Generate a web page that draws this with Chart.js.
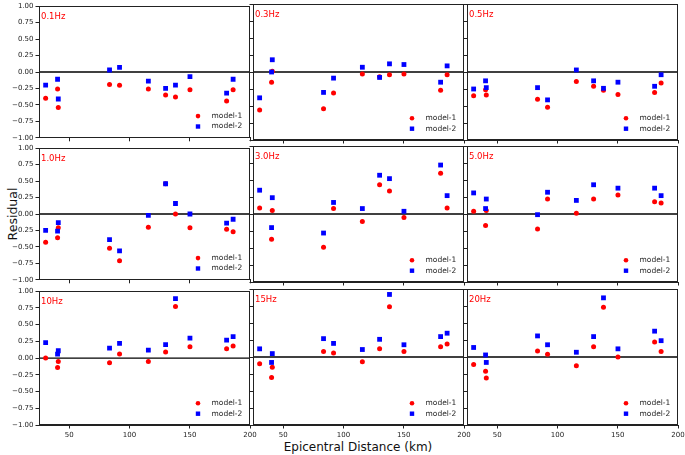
<!DOCTYPE html>
<html>
<head>
<meta charset="utf-8">
<script src="https://cdn.jsdelivr.net/npm/chart.js@4.4.1/dist/chart.umd.min.js"></script>
<style>
    body { margin: 0; background: #fff; width: 685px; height: 455px; position: relative; overflow: hidden; font-family: "DejaVu Sans", sans-serif; }
    canvas { position: absolute; }
    #ylabel { position: absolute; left: 12px; top: 214px; transform: translate(-50%, -50%) rotate(-90deg); font-size: 12.5px; color: #111; white-space: nowrap; }
    #xlabel { position: absolute; left: 358px; top: 447px; transform: translate(-50%, -50%); font-size: 12px; color: #111; white-space: nowrap; }
</style>
</head>
<body>
<div id="ylabel">Residual</div>
<div id="xlabel">Epicentral Distance (km)</div>
<script>
// station distances (km), shared by every panel
const distances = [30.5, 40.4, 41.0, 83.5, 91.8, 115.7, 130.0, 138.2, 150.2, 180.6, 186.0];

const freqLabels = ["0.1Hz", "0.3Hz", "0.5Hz", "1.0Hz", "3.0Hz", "5.0Hz", "10Hz", "15Hz", "20Hz"];

const model1 = [
    [-0.40, -0.26, -0.54, -0.19, -0.20, -0.26, -0.35, -0.38, -0.27, -0.44, -0.27],
    [-0.56, -0.15, 0.01, -0.54, -0.31, -0.03, -0.07, -0.04, -0.03, -0.27, -0.04],
    [-0.35, -0.26, -0.34, -0.40, -0.52, -0.14, -0.21, -0.27, -0.33, -0.30, -0.16],
    [-0.43, -0.36, -0.21, -0.52, -0.71, -0.20, 0.46, 0.00, -0.21, -0.23, -0.27],
    [0.09, -0.37, 0.05, -0.49, 0.08, -0.11, 0.43, 0.34, -0.05, 0.60, 0.09],
    [0.04, -0.17, 0.05, -0.22, 0.22, 0.01, 0.22, null, 0.28, 0.18, 0.16],
    [0.00, -0.14, -0.05, -0.07, 0.06, -0.05, 0.09, 0.77, 0.17, 0.14, 0.18],
    [-0.10, -0.30, -0.15, 0.08, 0.06, -0.07, 0.12, 0.74, 0.08, 0.15, 0.19],
    [-0.11, -0.21, -0.31, 0.09, 0.04, -0.13, 0.15, 0.73, 0.00, 0.22, 0.08]
];

const model2 = [
    [-0.20, -0.11, -0.41, 0.03, 0.07, -0.14, -0.25, -0.20, -0.07, -0.32, -0.11],
    [-0.38, 0.00, 0.18, -0.30, -0.09, 0.07, -0.08, 0.12, 0.11, -0.15, 0.09],
    [-0.25, -0.13, -0.23, -0.23, -0.41, 0.03, -0.13, -0.24, -0.15, -0.21, -0.04],
    [-0.25, -0.26, -0.13, -0.39, -0.56, -0.02, 0.46, 0.16, 0.00, -0.14, -0.08],
    [0.35, -0.20, 0.24, -0.28, 0.17, 0.08, 0.57, 0.52, 0.04, 0.72, 0.27],
    [0.31, 0.08, 0.22, -0.01, 0.32, 0.20, 0.43, null, 0.38, 0.38, 0.27],
    [0.23, 0.06, 0.11, 0.15, 0.22, 0.12, 0.20, 0.89, 0.30, 0.27, 0.32],
    [0.12, -0.08, 0.05, 0.27, 0.20, 0.11, 0.26, 0.92, 0.18, 0.30, 0.35],
    [0.14, 0.03, -0.08, 0.31, 0.18, 0.07, 0.30, 0.87, 0.12, 0.38, 0.24]
];

const seriesNames = ["model-1", "model-2"];
const xTicks = [50, 100, 150, 200];
const yTicks = [-1, -0.75, -0.5, -0.25, 0, 0.25, 0.5, 0.75, 1];
const xMin = 25, xMax = 200;

// panel geometry (plot area in page pixels)
const colLeft = [39, 253, 467];
const rowTop = [4, 146, 289];
const plotW = 211, plotH = 136;
const padT = 4, padR = 12;

Chart.defaults.font.family = '"DejaVu Sans", sans-serif';
Chart.defaults.font.size = 7;
Chart.defaults.color = "#222";

const panelDecor = {
    id: "panelDecor",
    afterDraw(chart, args, opts) {
        const { ctx, chartArea: a } = chart;
        ctx.save();
        ctx.strokeStyle = "#222";
        ctx.lineWidth = 1;
        ctx.strokeRect(Math.round(a.left) + 0.5, Math.round(a.top) + 0.5, Math.round(a.right - a.left) - 1, Math.round(a.bottom - a.top) - 1);

        // frequency label
        ctx.fillStyle = "red";
        ctx.font = '8.5px "DejaVu Sans"';
        ctx.textBaseline = "middle";
        ctx.fillText(opts.label, a.left + 2, a.top + 10.5);

        // legend in the lower right corner
        const mx = a.right - 52;
        const y1 = a.bottom - 21.7, y2 = a.bottom - 11.3;
        ctx.fillStyle = "red";
        ctx.beginPath();
        ctx.arc(mx, y1, 2.3, 0, Math.PI * 2);
        ctx.fill();
        ctx.fillStyle = "blue";
        ctx.fillRect(mx - 2.2, y2 - 2.2, 4.4, 4.4);
        ctx.fillStyle = "#222";
        ctx.font = '7.5px "DejaVu Sans"';
        ctx.fillText(seriesNames[0], a.right - 38.5, y1);
        ctx.fillText(seriesNames[1], a.right - 38.5, y2);
        ctx.restore();
    }
};

function toPoints(values) {
    return distances
        .map((d, i) => ({ x: d, y: values[i] }))
        .filter(p => p.y !== null);
}

function makePanel(idx) {
    const row = Math.floor(idx / 3);
    const col = idx % 3;
    const padL = col === 0 ? 39 : 5;
    const padB = row === 2 ? 22 : 4;

    const canvas = document.createElement("canvas");
    const w = padL + plotW + padR;
    const h = padT + plotH + padB;
    canvas.width = w;
    canvas.height = h;
    canvas.style.width = w + "px";
    canvas.style.height = h + "px";
    canvas.style.left = (colLeft[col] - padL) + "px";
    canvas.style.top = (rowTop[row] - padT) + "px";
    document.body.appendChild(canvas);

    const gridOpts = { drawOnChartArea: false, tickLength: 3.5, color: "#222", tickColor: "#222", tickWidth: 1 };

    new Chart(canvas.getContext("2d"), {
        type: "scatter",
        data: {
            datasets: [
                {
                    label: "zero",
                    data: [{ x: xMin, y: 0 }, { x: xMax, y: 0 }],
                    showLine: true,
                    borderColor: "#000",
                    borderWidth: 1.3,
                    pointRadius: 0,
                    order: 3
                },
                {
                    label: seriesNames[0],
                    data: toPoints(model1[idx]),
                    pointStyle: "circle",
                    pointRadius: 2.5,
                    borderWidth: 0,
                    backgroundColor: "red",
                    order: 2
                },
                {
                    label: seriesNames[1],
                    data: toPoints(model2[idx]),
                    pointStyle: "rect",
                    pointRadius: 3.4,
                    borderWidth: 0,
                    backgroundColor: "blue",
                    order: 1
                }
            ]
        },
        options: {
            responsive: false,
            animation: false,
            events: [],
            layout: { padding: { top: padT, right: padR, left: 0, bottom: 0 } },
            plugins: {
                legend: { display: false },
                tooltip: { enabled: false },
                panelDecor: { label: freqLabels[idx] }
            },
            scales: {
                x: {
                    type: "linear",
                    min: xMin,
                    max: xMax,
                    afterBuildTicks: s => { s.ticks = xTicks.map(v => ({ value: v })); },
                    afterFit: s => { s.height = padB; },
                    grid: gridOpts,
                    border: { display: true, color: "#222", width: 1 },
                    ticks: { display: row === 2, padding: 2, maxRotation: 0, autoSkip: false, callback: v => String(v) }
                },
                y: {
                    type: "linear",
                    min: -1,
                    max: 1,
                    afterBuildTicks: s => { s.ticks = yTicks.map(v => ({ value: v })); },
                    afterFit: s => { s.width = padL; },
                    grid: gridOpts,
                    border: { display: true, color: "#222", width: 1 },
                    ticks: { display: col === 0, padding: 2, autoSkip: false, callback: v => v.toFixed(2).replace("-", "\u2212") }
                }
            }
        },
        plugins: [panelDecor]
    });
}

freqLabels.forEach((f, i) => makePanel(i));
</script>
</body>
</html>
